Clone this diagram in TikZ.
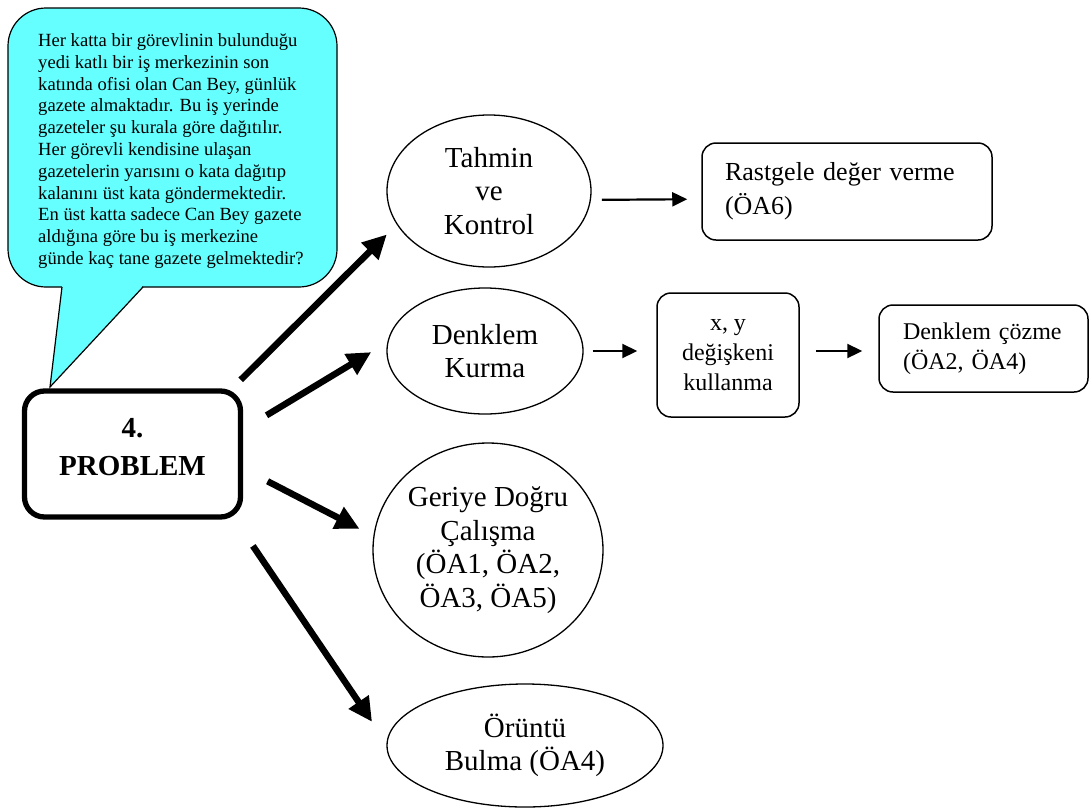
\documentclass[tikz,border=0pt]{standalone}
\usepackage{fontspec}
\setmainfont{Liberation Serif}
\definecolor{bubblecyan}{HTML}{66FFFF}
\usepackage{tikz}
\usetikzlibrary{shapes,arrows.meta}

\begin{document}
\begin{tikzpicture}[x=1pt, y=-1pt,
  idea/.style={draw, ellipse, line width=1.3pt, inner sep=0pt, align=center, font=\fontsize{29}{33.5}\selectfont},
  stepbox/.style={draw, rectangle, rounded corners=14pt, line width=1.5pt, inner sep=0pt, font=\fontsize{24}{30}\selectfont},
  bigarrow/.style={-{Triangle[length=24pt,width=23pt]}, line width=6.5pt},
  smallarrow/.style={-{Triangle[length=15pt,width=14pt]}, line width=2.2pt}]
  \useasboundingbox (0,0) rectangle (1089,809);

  \draw[line width=1.2pt, fill=bubblecyan, rounded corners=38pt] (8,8) rectangle (337,287);
  \fill[bubblecyan] (62.4,283) -- (142.6,283) -- (141.5,288.8) -- (50,387) -- (61.8,288.8) -- cycle;
  \draw[line width=1.2pt] (62,287) -- (50,387) -- (143,287);
  \node[anchor=west, inner sep=0pt, align=left, font=\fontsize{18.6}{21.8}\selectfont] (soru) at (38,151)
    {Her katta bir görevlinin bulunduğu\\yedi katlı bir iş merkezinin son\\katında ofisi olan Can Bey, günlük\\gazete almaktadır. Bu iş yerinde\\gazeteler şu kurala göre dağıtılır.\\Her görevli kendisine ulaşan\\gazetelerin yarısını o kata dağıtıp\\kalanını üst kata göndermektedir.\\En üst katta sadece Can Bey gazete\\aldığına göre bu iş merkezine\\günde kaç tane gazete gelmektedir?};

  \node[draw, rectangle, rounded corners=20pt, line width=5.3pt, outer sep=0pt, minimum width=216pt, minimum height=126pt, text depth=14pt, align=center, font=\bfseries\fontsize{29}{38}\selectfont] (problem) at (132.5,454) {4.\\PROBLEM};

  \node[idea, minimum width=204pt, minimum height=152pt] (tahmin) at (489,191) {Tahmin\\ve\\Kontrol};
  \node[idea, minimum width=196pt, minimum height=126pt] (denklem) at (485,351) {Denklem\\Kurma};
  \node[idea, minimum width=230pt, minimum height=214pt] (geriye) at (488,550) {Geriye Doğru\\Çalışma\\(ÖA1, ÖA2,\\ÖA3, ÖA5)};
  \node[idea, minimum width=276pt, minimum height=123pt] (oruntu) at (525,745.5) {Örüntü\\Bulma (ÖA4)};

  \node[stepbox, minimum width=290pt, minimum height=97pt, text width=244pt, align=left, font=\fontsize{26}{34}\selectfont] (rastgele) at (847,191.5) {Rastgele değer verme\\(ÖA6)};
  \node[stepbox, minimum width=142pt, minimum height=124pt, align=center] (degisken) at (728,355) {x, y\\değişkeni\\kullanma};
  \node[stepbox, minimum width=209pt, minimum height=87pt, text width=161pt, align=left] (cozme) at (983.5,348.5) {Denklem çözme\\(ÖA2, ÖA4)};

  \draw[bigarrow, shorten <=15.8pt, shorten >=14pt] (problem.33.5) -- (tahmin.200.6);
  \draw[bigarrow, shorten <=30.4pt, shorten >=18.7pt] (problem.12) -- (denklem.175);
  \draw[bigarrow, shorten <=30.5pt, shorten >=15.6pt] (problem.353) -- (geriye.173.6);
  \draw[bigarrow, shorten <=34.9pt, shorten >=25.7pt] (problem.328.3) -- (oruntu.179.4);

  \draw[smallarrow, shorten <=11pt, shorten >=14pt] (tahmin.355.5) -- (rastgele.183);
  \draw[smallarrow, shorten <=9pt, shorten >=19pt] (denklem.east) -- (denklem.east -| degisken.west);
  \draw[smallarrow, shorten <=16pt, shorten >=16pt] (degisken.east |- denklem.east) -- (cozme.west |- denklem.east);
\end{tikzpicture}
\end{document}
